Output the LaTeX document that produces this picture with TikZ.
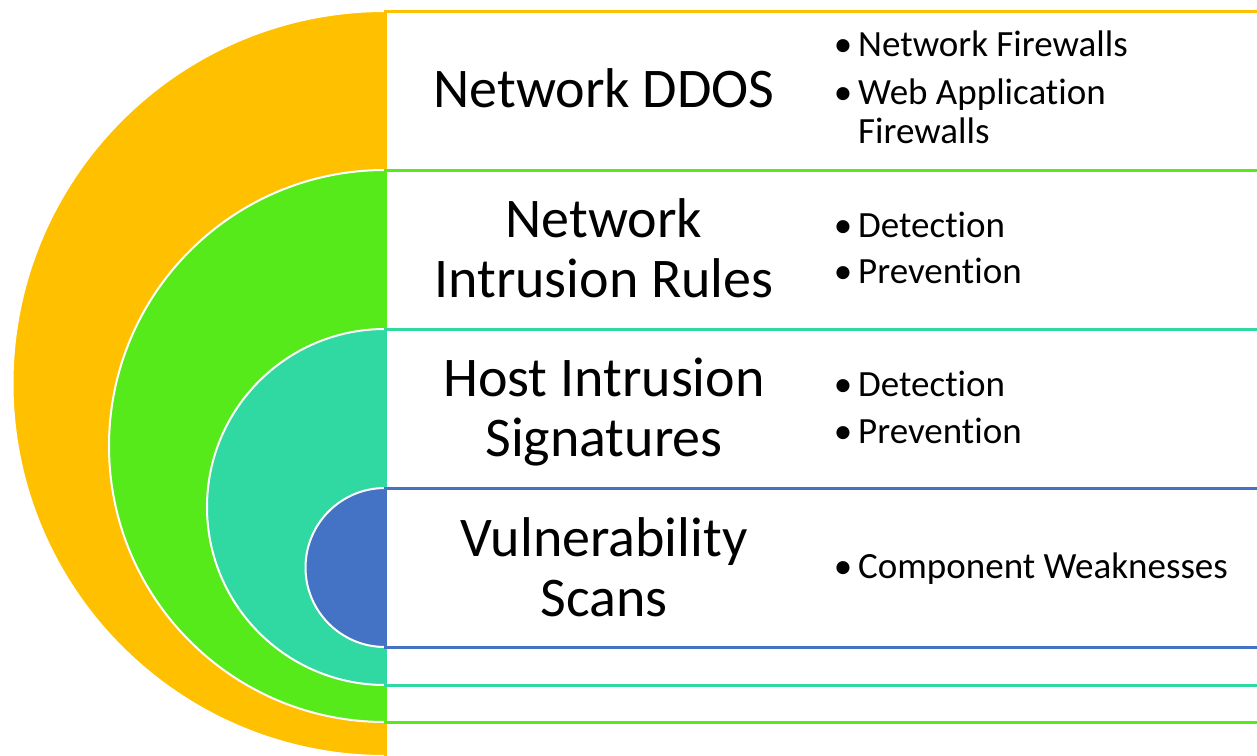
\documentclass[tikz,border=0pt]{standalone}
\usepackage{fontspec}
\setmainfont{Carlito}[Ligatures=NoCommon]
\definecolor{cOr}{HTML}{FFC000}
\definecolor{cGr}{HTML}{56EA1A}
\definecolor{cTe}{HTML}{30D8A2}
\definecolor{cBl}{HTML}{4472C4}
\begin{document}
\begin{tikzpicture}[x=1pt,y=-1pt,
  half/.style={line width=2pt, draw=white},
  band/.style={line width=3pt, fill=white},
  title/.style={anchor=base, align=center, inner sep=0pt, font=\fontsize{56}{60}\selectfont},
  bul/.style={anchor=base, inner sep=0pt, font=\fontsize{37}{40}\selectfont},
  item/.style={anchor=base west, inner sep=0pt, font=\fontsize{37}{40}\selectfont}]
\useasboundingbox (0,0) rectangle (1257,755);
\fill[white] (0,0) rectangle (1257,755);
\clip (0,0) rectangle (1257,755);
% orange
\fill[cOr, half] (385,11) arc (270:90:372.5) -- cycle;
\draw[cOr, band] (385,11) rectangle (1265,757);
% green
\fill[cGr, half] (385,170) arc (270:90:276) -- cycle;
\draw[cGr, band] (385,170) rectangle (1265,722);
% teal
\fill[cTe, half] (385,329) arc (270:90:178) -- cycle;
\draw[cTe, band] (385,329) rectangle (1265,685);
% blue
\fill[cBl, half] (385,488) arc (270:90:79.5) -- cycle;
\draw[cBl, band] (385,488) rectangle (1265,647);
% titles (anchor = baseline of last line)
\node[title] (t1) at (604,107) {Network DDOS};
\node[title] (t2) at (604,297) {Network\\Intrusion Rules};
\node[title] (t3) at (604,456) {Host Intrusion\\Signatures};
\node[title] (t4) at (604,616) {Vulnerability\\Scans};
% bullets
\node[bul] (b1a) at (843,56) {•};
\node[item] (i1a) at (858,56) {Network Firewalls};
\node[bul] (b1b) at (843,104) {•};
\node[item] (i1b) at (858,104) {Web Application};
\node[item] (i1c) at (858,143) {Firewalls};
\node[bul] (b2a) at (843,237) {•};
\node[item] (i2a) at (858,237) {Detection};
\node[bul] (b2b) at (843,283) {•};
\node[item] (i2b) at (858,283) {Prevention};
\node[bul] (b3a) at (843,396) {•};
\node[item] (i3a) at (858,396) {Detection};
\node[bul] (b3b) at (843,443) {•};
\node[item] (i3b) at (858,443) {Prevention};
\node[bul] (b4a) at (843,578) {•};
\node[item] (i4a) at (858,578) {Component Weaknesses};
\end{tikzpicture}
\end{document}
